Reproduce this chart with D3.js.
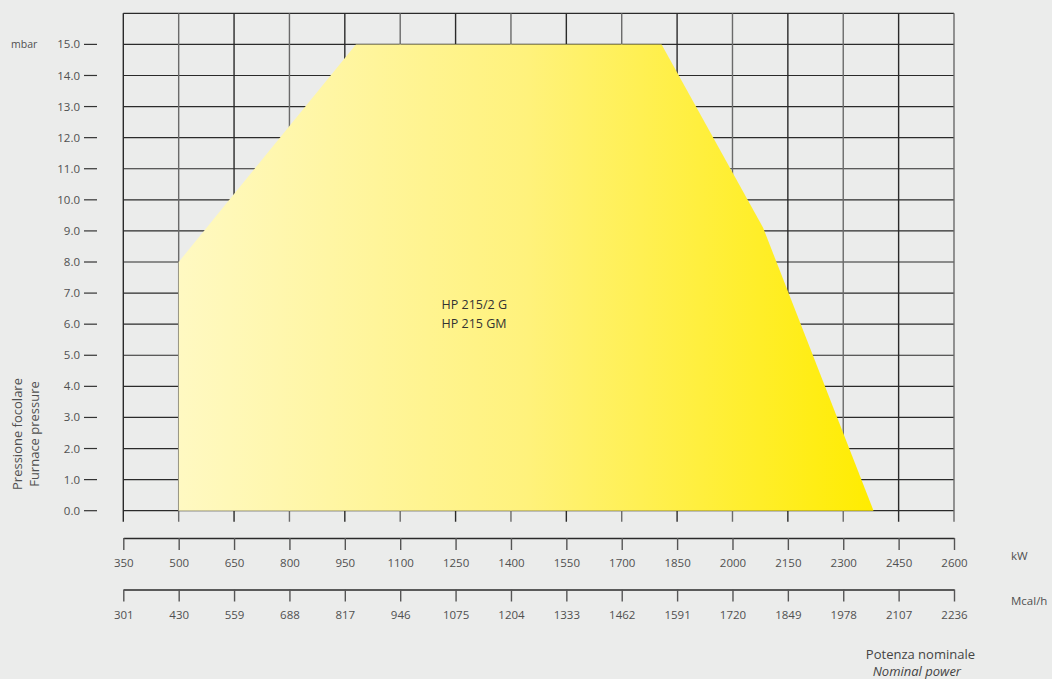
<!DOCTYPE html>
<html>
<head>
<meta charset="utf-8">
<script src="https://cdn.jsdelivr.net/npm/d3@7"></script>
<style>
  body { margin: 0; background: #ebeceb; }
  svg { display: block; font-family: "Open Sans", sans-serif; }
</style>
</head>
<body>
<div id="chart"></div>
<script>
// values
var kwTicks = [350, 500, 650, 800, 950, 1100, 1250, 1400, 1550, 1700, 1850, 2000, 2150, 2300, 2450, 2600];
var mcalTicks = [301, 430, 559, 688, 817, 946, 1075, 1204, 1333, 1462, 1591, 1720, 1849, 1978, 2107, 2236];
var pressTicks = [0, 1, 2, 3, 4, 5, 6, 7, 8, 9, 10, 11, 12, 13, 14, 15];
// working field outline: [kW, mbar]
var fieldKw = [500, 500, 980, 1808, 2083, 2382];
var fieldMbar = [0, 8.0, 15.0, 15.0, 9.1, 0];
var modelNames = ['HP 215/2 G', 'HP 215 GM'];

var width = 1052, height = 679;
var plot = { left: 123.3, right: 954, top: 13.3, bottom: 510.7 };

var svg = d3.select('#chart')
    .append('svg')
    .attr('width', width)
    .attr('height', height);

var x = d3.scaleLinear().domain([350, 2600]).range([plot.left, plot.right]);
var y = d3.scaleLinear().domain([0, 16]).range([plot.bottom, plot.top]);
// second scale, same pixel range, Mcal/h
var xm = d3.scalePoint().domain(mcalTicks).range([plot.left, plot.right]);

var textCol = '#505050';
var lineCol = '#2a2a2a';

// grid
var grid = svg.append('g').attr('class', 'grid');
grid.selectAll('line.h')
    .data(d3.range(0, 17))
    .enter()
    .append('line')
    .attr('x1', plot.left)
    .attr('x2', plot.right)
    .attr('y1', d => y(d))
    .attr('y2', d => y(d))
    .attr('stroke', lineCol)
    .attr('stroke-width', 1.2);
grid.selectAll('line.v')
    .data(kwTicks)
    .enter()
    .append('line')
    .attr('x1', d => x(d))
    .attr('x2', d => x(d))
    .attr('y1', plot.top)
    .attr('y2', y(0) + 11)
    .attr('stroke', (d, i) => (i % 2 ? '#6a6a6a' : lineCol))
    .attr('stroke-width', 1.4);

// field, gradient fill
var defs = svg.append('defs');
var grad = defs.append('linearGradient')
    .attr('id', 'fieldGrad')
    .attr('gradientUnits', 'userSpaceOnUse')
    .attr('x1', x(500)).attr('x2', x(2382))
    .attr('y1', 0).attr('y2', 0);
grad.append('stop').attr('offset', '0%').attr('stop-color', '#fff9c2');
grad.append('stop').attr('offset', '50%').attr('stop-color', '#fff27c');
grad.append('stop').attr('offset', '100%').attr('stop-color', '#ffec00');

var fieldPts = fieldKw.map((k, i) => [x(k), y(fieldMbar[i])]);
svg.append('path')
    .attr('d', d3.line()(fieldPts) + 'Z')
    .attr('fill', 'url(#fieldGrad)');

// model label
svg.append('g')
    .selectAll('text')
    .data(modelNames)
    .enter()
    .append('text')
    .attr('x', x(1250) - 14)
    .attr('y', (d, i) => 309 + i * 18.5)
    .attr('font-size', 12.5)
    .attr('fill', '#333')
    .text(d => d);

// y ticks (detached from the grid)
var yTick = svg.append('g')
    .selectAll('g')
    .data(pressTicks)
    .enter()
    .append('g')
    .attr('transform', d => `translate(0,${y(d)})`);
yTick.append('line')
    .attr('x1', 84).attr('x2', 97)
    .attr('stroke', '#333').attr('stroke-width', 1.2);
yTick.append('text')
    .attr('x', 80)
    .attr('dy', '0.35em')
    .attr('text-anchor', 'end')
    .attr('font-size', 11.5)
    .attr('fill', textCol)
    .text(d => d.toFixed(1));
svg.append('text')
    .attr('x', 11).attr('y', y(15))
    .attr('dy', '0.35em')
    .attr('font-size', 10.5)
    .attr('fill', textCol)
    .text('mbar');

// y title
svg.append('text')
    .attr('transform', 'translate(22,434) rotate(-90)')
    .attr('text-anchor', 'middle')
    .attr('font-size', 13)
    .attr('fill', textCol)
    .selectAll('tspan')
    .data(['Pressione focolare', 'Furnace pressure'])
    .enter()
    .append('tspan')
    .attr('x', 0)
    .attr('dy', (d, i) => (i ? '1.28em' : 0))
    .text(d => d);

// kW axis
var kwAxis = d3.axisBottom(x)
    .tickValues(kwTicks)
    .tickSize(12)
    .tickSizeOuter(0)
    .tickPadding(9)
    .tickFormat(d3.format('d'));
var gk = svg.append('g')
    .attr('transform', 'translate(0,538)')
    .call(kwAxis);

// Mcal/h axis
var mAxis = d3.axisBottom(xm)
    .tickSize(12)
    .tickSizeOuter(0)
    .tickPadding(9);
var gm = svg.append('g')
    .attr('transform', 'translate(0,589.5)')
    .call(mAxis);

[gk, gm].forEach(g => {
    g.select('.domain').attr('stroke', lineCol).attr('stroke-width', 1.4);
    g.selectAll('.tick line').attr('stroke', '#555').attr('stroke-width', 1.4);
    g.selectAll('.tick text')
        .attr('font-size', 11.5)
        .attr('font-family', '"Open Sans", sans-serif')
        .attr('fill', textCol);
});

svg.append('text')
    .attr('x', 1011).attr('y', 556)
    .attr('dy', '0.35em')
    .attr('font-size', 11.5)
    .attr('fill', textCol)
    .text('kW');
svg.append('text')
    .attr('x', 1011).attr('y', 601)
    .attr('dy', '0.35em')
    .attr('font-size', 11.5)
    .attr('fill', textCol)
    .text('Mcal/h');

// x title
svg.append('text')
    .attr('x', 975).attr('y', 659)
    .attr('text-anchor', 'end')
    .attr('font-size', 13)
    .attr('fill', '#444')
    .text('Potenza nominale');
svg.append('text')
    .attr('x', 961).attr('y', 676)
    .attr('text-anchor', 'end')
    .attr('font-size', 13)
    .attr('font-style', 'italic')
    .attr('fill', '#444')
    .text('Nominal power');
</script>
</body>
</html>
